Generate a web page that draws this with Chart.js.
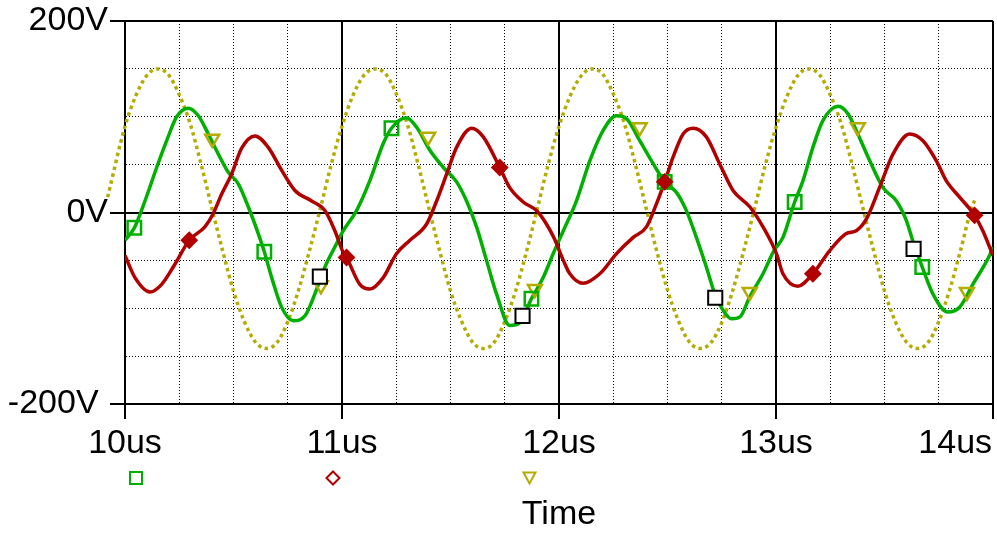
<!DOCTYPE html>
<html>
<head>
<meta charset="utf-8">
<script src="https://cdn.jsdelivr.net/npm/chart.js@4/dist/chart.umd.min.js"></script>
<style>
  html, body { margin: 0; padding: 0; background: #fff; }
</style>
</head>
<body>
<canvas id="plot" width="997" height="534"></canvas>
<script>
const GREEN = '#00b000';
const RED = '#b00000';
const OLIVE = '#b4ac00';

// axis ticks that carry a label
const timeTicks = [10, 11, 12, 13, 14];
const timeLabels = ['10us', '11us', '12us', '13us', '14us'];
const voltTicks = [-200, 0, 200];
const voltLabels = ['-200V', '0V', '200V'];

// green trace (solid)
const greenT = [10.000, 10.043, 10.092, 10.146, 10.192, 10.238, 10.292, 10.338, 10.384, 10.430, 10.476, 10.522, 10.568, 10.614, 10.642, 10.676, 10.722, 10.775, 10.829, 10.875, 10.921, 10.967,
  11.006, 11.067, 11.128, 11.190, 11.228, 11.297, 11.344, 11.405, 11.467, 11.528, 11.574, 11.620, 11.666, 11.712, 11.773, 11.820, 11.873, 11.927, 11.975,
  12.020, 12.080, 12.142, 12.204, 12.265, 12.311, 12.372, 12.434, 12.487, 12.541, 12.587, 12.633, 12.679, 12.718, 12.756, 12.795, 12.834, 12.879, 12.940, 12.990,
  13.032, 13.086, 13.124, 13.170, 13.216, 13.286, 13.332, 13.377, 13.432, 13.493, 13.555, 13.600, 13.631, 13.674, 13.723, 13.792, 13.846, 13.907, 13.984, 14.000];
const greenV = [-29, -16, 12, 47, 75, 100, 109, 101, 82, 61, 42, 30, 6, -22, -41, -68, -99, -113, -108, -85, -57, -36,
  -19, 2, 33, 72, 88, 99, 89, 65, 47, 32, 12, -15, -50, -85, -118, -115, -90, -68, -42,
  -19, 12, 54, 86, 101, 98, 75, 51, 32, 21, 2, -26, -57, -85, -102, -111, -109, -88, -64, -40,
  -26, 11, 33, 68, 96, 111, 103, 82, 54, 26, 12, -8, -30, -57, -85, -104, -99, -75, -45, -36];

// red trace (solid)
const redT = [10.000, 10.046, 10.115, 10.169, 10.230, 10.296, 10.368, 10.407, 10.445, 10.491, 10.537, 10.599, 10.660, 10.722, 10.783, 10.860, 10.921, 10.967,
  11.006, 11.021, 11.082, 11.128, 11.190, 11.251, 11.313, 11.390, 11.436, 11.482, 11.528, 11.597, 11.651, 11.727, 11.773, 11.835, 11.896, 11.942, 11.980,
  12.020, 12.050, 12.111, 12.188, 12.265, 12.342, 12.403, 12.449, 12.487, 12.526, 12.572, 12.618, 12.679, 12.740, 12.802, 12.879, 12.940,
  13.002, 13.032, 13.101, 13.170, 13.247, 13.324, 13.370, 13.416, 13.477, 13.539, 13.616, 13.677, 13.739, 13.785, 13.846, 13.915, 13.953, 14.000];
const redV = [-45, -68, -83, -75, -54, -29, -15, -1, 19, 40, 67, 80, 68, 44, 23, 12, 2, -19,
  -42, -47, -75, -80, -68, -43, -29, -12, 12, 40, 68, 88, 79, 47, 26, 11, 2, -12, -28,
  -50, -64, -74, -64, -43, -26, -15, 9, 32, 58, 82, 88, 79, 51, 23, 6, -15,
  -43, -64, -77, -64, -40, -22, -19, -7, 26, 61, 82, 75, 54, 33, 16, -3, -19, -45];

// olive trace (dotted)
const oliveT = [9.92,
  10.00, 10.05, 10.10, 10.15, 10.20, 10.25, 10.30, 10.35, 10.40, 10.45, 10.50, 10.55, 10.60, 10.65, 10.70, 10.75, 10.80, 10.85, 10.90, 10.95,
  11.00, 11.05, 11.10, 11.15, 11.20, 11.25, 11.30, 11.35, 11.40, 11.45, 11.50, 11.55, 11.60, 11.65, 11.70, 11.75, 11.80, 11.85, 11.90, 11.95,
  12.00, 12.05, 12.10, 12.15, 12.20, 12.25, 12.30, 12.35, 12.40, 12.45, 12.50, 12.55, 12.60, 12.65, 12.70, 12.75, 12.80, 12.85, 12.90, 12.95,
  13.00, 13.05, 13.10, 13.15, 13.20, 13.25, 13.30, 13.35, 13.40, 13.45, 13.50, 13.55, 13.60, 13.65, 13.70, 13.75, 13.80, 13.85, 13.90,
  13.92];
const oliveV = [16,
  90, 122, 143, 150, 144, 123, 93, 51, 5, -40, -82, -114, -135, -142, -136, -114, -81, -40, 4, 50,
  90, 122, 143, 150, 145, 124, 93, 51, 5, -40, -82, -113, -135, -142, -136, -114, -82, -41, 4, 50,
  90, 121, 142, 150, 145, 124, 94, 52, 6, -40, -81, -113, -135, -142, -136, -115, -82, -41, 3, 49,
  89, 121, 143, 150, 144, 123, 93, 51, 5, -40, -82, -114, -135, -142, -136, -114, -81, -40, 4,
  15];

// marker symbols
const greenMarkT = [10.043, 10.642, 11.228, 11.873, 12.487, 13.086, 13.674];
const greenMarkV = [-16, -41, 88, -90, 32, 11, -57];
const redMarkT = [10.296, 11.021, 11.727, 12.487, 13.170, 13.915];
const redMarkV = [-29, -47, 47, 32, -64, -3];
const oliveMarkT = [10.402, 10.903, 11.397, 11.889, 12.372, 12.879, 13.377, 13.880];
const oliveMarkV = [77, -76, 79, -80, 89, -83, 89, -83];
const blackMarkT = [10.898, 11.832, 12.720, 13.634];
const blackMarkV = [-67, -108, -89, -38];

function pts(ts, vs) {
    return ts.map((t, i) => ({ x: t, y: vs[i] }));
}

const isMajorT = tick => tick && timeTicks.indexOf(tick.value) >= 0;
const isMajorV = tick => tick && voltTicks.indexOf(tick.value) >= 0;

// legend symbols sit between the tick labels and the axis title
const legendMarks = {
    id: 'legendMarks',
    afterDraw(chart) {
        const ctx = chart.ctx;
        ctx.save();
        ctx.lineWidth = 2;
        ctx.strokeStyle = GREEN;
        ctx.strokeRect(130, 472, 12, 12);
        ctx.strokeStyle = RED;
        ctx.beginPath();
        ctx.moveTo(333, 471.5); ctx.lineTo(339.5, 478); ctx.lineTo(333, 484.5); ctx.lineTo(326.5, 478);
        ctx.closePath();
        ctx.stroke();
        ctx.strokeStyle = OLIVE;
        ctx.beginPath();
        ctx.moveTo(523.5, 472.5); ctx.lineTo(535.5, 472.5); ctx.lineTo(529.5, 483.5);
        ctx.closePath();
        ctx.stroke();
        ctx.restore();
    }
};

Chart.defaults.font.family = "'Liberation Sans', Arial, sans-serif";
Chart.defaults.color = '#000';

const ctx = document.getElementById('plot').getContext('2d');
new Chart(ctx, {
    type: 'line',
    data: {
        datasets: [
            {
                data: pts(blackMarkT, blackMarkV), showLine: false, order: 0,
                pointStyle: 'rect', pointRadius: 10, pointBorderWidth: 2,
                pointBorderColor: '#000', pointBackgroundColor: '#fff'
            },
            {
                data: pts(redMarkT, redMarkV), showLine: false, order: 1,
                pointStyle: 'rectRot', pointRadius: 7.5, pointBorderWidth: 2,
                pointBorderColor: RED, pointBackgroundColor: RED
            },
            {
                data: pts(greenMarkT, greenMarkV), showLine: false, order: 2,
                pointStyle: 'rect', pointRadius: 9.5, pointBorderWidth: 2.5,
                pointBorderColor: GREEN, pointBackgroundColor: 'rgba(0,0,0,0)'
            },
            {
                data: pts(oliveMarkT, oliveMarkV), showLine: false, order: 3,
                pointStyle: 'triangle', pointRotation: 180, pointRadius: 8, pointBorderWidth: 2.5,
                pointBorderColor: OLIVE, pointBackgroundColor: 'rgba(0,0,0,0)'
            },
            {
                data: pts(redT, redV), order: 4,
                borderColor: RED, borderWidth: 3.5, borderJoinStyle: 'round',
                pointRadius: 0, cubicInterpolationMode: 'monotone'
            },
            {
                data: pts(greenT, greenV), order: 5,
                borderColor: GREEN, borderWidth: 3.5, borderJoinStyle: 'round',
                pointRadius: 0, cubicInterpolationMode: 'monotone'
            },
            {
                data: pts(oliveT, oliveV), order: 6, clip: false,
                borderColor: OLIVE, borderWidth: 3.5, borderDash: [3.5, 3.5], borderCapStyle: 'butt',
                pointRadius: 0, cubicInterpolationMode: 'monotone'
            }
        ]
    },
    options: {
        responsive: false,
        animation: false,
        events: [],
        layout: { autoPadding: false, padding: { top: 21, right: 4, left: 0, bottom: 0 } },
        plugins: {
            legend: { display: false },
            tooltip: { enabled: false }
        },
        scales: {
            x: {
                type: 'linear',
                min: 10,
                max: 14,
                afterFit: function (scale) {
                    scale.height = 130;
                    scale.paddingLeft = 0;
                    scale.paddingRight = 0;
                },
                ticks: {
                    stepSize: 0.25,
                    maxTicksLimit: 40,
                    autoSkip: false,
                    maxRotation: 0,
                    minRotation: 0,
                    padding: 4,
                    font: { size: 34 },
                    callback: function (value) {
                        const i = timeTicks.indexOf(value);
                        if (i < 0) return '';
                        // last label is pulled inside the page
                        return i === timeTicks.length - 1 ? timeLabels[i] + '        ' : timeLabels[i];
                    }
                },
                grid: {
                    color: '#000',
                    lineWidth: c => isMajorT(c.tick) ? 2 : 1,
                    tickLength: 15,
                    tickWidth: 2,
                    tickColor: c => isMajorT(c.tick) ? '#000' : 'rgba(0,0,0,0)',
                    tickBorderDash: []
                },
                border: {
                    color: '#000',
                    width: 2,
                    dash: c => (c.tick && !isMajorT(c.tick)) ? [1, 2] : []
                },
                title: {
                    display: true,
                    text: 'Time',
                    font: { size: 34, lineHeight: 1 },
                    padding: { top: 0, bottom: 2 }
                }
            },
            y: {
                type: 'linear',
                min: -200,
                max: 200,
                afterFit: function (scale) {
                    scale.width = 125;
                    scale.paddingTop = 0;
                    scale.paddingBottom = 0;
                },
                ticks: {
                    stepSize: 50,
                    maxTicksLimit: 20,
                    autoSkip: false,
                    padding: 2,
                    font: { size: 34 },
                    callback: function (value) {
                        const i = voltTicks.indexOf(value);
                        if (i < 0) return '';
                        return i === 0 ? voltLabels[i] + ' ' : voltLabels[i];
                    }
                },
                grid: {
                    color: '#000',
                    lineWidth: c => isMajorV(c.tick) ? 2 : 1,
                    tickLength: 15,
                    tickWidth: 2,
                    tickColor: c => isMajorV(c.tick) ? '#000' : 'rgba(0,0,0,0)',
                    tickBorderDash: []
                },
                border: {
                    color: '#000',
                    width: 2,
                    dash: c => (c.tick && !isMajorV(c.tick)) ? [1, 2] : []
                }
            }
        }
    },
    plugins: [legendMarks]
});
</script>
</body>
</html>
